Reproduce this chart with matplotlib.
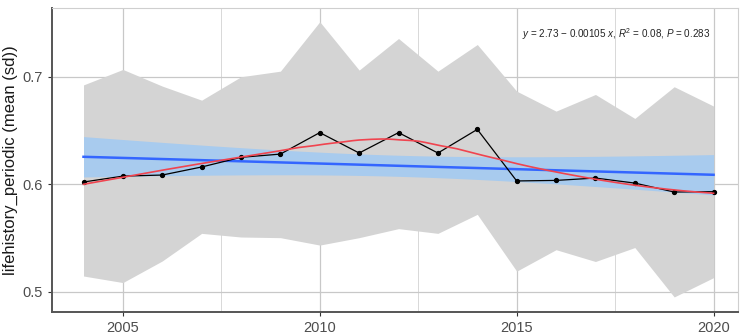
import numpy as np
import matplotlib
matplotlib.use("Agg")
import matplotlib.pyplot as plt

plt.rcParams['font.family'] = ['Liberation Sans', 'DejaVu Sans']
plt.rcParams['mathtext.fontset'] = 'custom'
plt.rcParams['mathtext.it'] = 'Liberation Sans:italic'
plt.rcParams['mathtext.rm'] = 'Liberation Sans'

# yearly mean and mean +/- sd band
years = np.arange(2004, 2021)
mean_vals = [0.602, 0.6075, 0.6085, 0.616, 0.625, 0.628, 0.648, 0.629, 0.648,
             0.629, 0.651, 0.603, 0.6035, 0.6057, 0.601, 0.5927, 0.593]
upper_vals = [0.6924, 0.7068, 0.6913, 0.6782, 0.700, 0.7052, 0.7512, 0.7062, 0.7356,
              0.7052, 0.730, 0.6866, 0.668, 0.6835, 0.6612, 0.6907, 0.6727]
lower_vals = [0.5145, 0.5084, 0.5285, 0.5542, 0.5508, 0.5502, 0.5433, 0.5502, 0.5586,
              0.5542, 0.5719, 0.519, 0.539, 0.528, 0.541, 0.495, 0.513]
equation = r"$y$ = 2.73 $-$ 0.00105 $x$, $R^2$ = 0.08, $P$ = 0.283"

x = years.astype(float)
y = np.array(mean_vals)

# linear fit with 95% confidence band (like geom_smooth(method = "lm"))
xs = np.linspace(x.min(), x.max(), 200)
slope, icpt = np.polyfit(x, y, 1)
fit = icpt + slope * xs
resid = y - (icpt + slope * x)
n = len(x)
s = np.sqrt(np.sum(resid ** 2) / (n - 2))
tval = 2.131  # t(0.975, df = 15)
se = s * np.sqrt(1 / n + (xs - x.mean()) ** 2 / np.sum((x - x.mean()) ** 2))


# loess smoother (span 0.75, degree 2)
def loess(x, y, xs, span=0.75):
    q = int(np.floor(span * len(x)))
    out = []
    for x0 in xs:
        d = np.abs(x - x0)
        h = np.sort(d)[q - 1]
        w = np.clip(1 - (d / h) ** 3, 0, None) ** 3
        W = np.sqrt(w)
        A = np.vstack([np.ones_like(x), x - x0, (x - x0) ** 2]).T
        coef = np.linalg.lstsq(A * W[:, None], y * W, rcond=None)[0]
        out.append(coef[0])
    return np.array(out)


smooth = loess(x, y, xs)

fig = plt.figure(figsize=(7.4, 3.36), dpi=100)
ax = fig.add_axes([52 / 740, 1 - 312 / 336, (738 - 52) / 740, (312 - 8) / 336])

ax.fill_between(years, lower_vals, upper_vals, color='#d4d4d4', lw=0, zorder=2)
ax.fill_between(xs, fit - tval * se, fit + tval * se, color='#a8cbee', lw=0, zorder=3)
ax.plot(xs, fit, color='#3366ff', lw=1.8, zorder=4)
ax.plot(years, mean_vals, color='black', lw=0.9, marker='o', ms=2.8, zorder=5)
ax.plot(xs, smooth, color='#f0444f', lw=1.2, zorder=6)

ax.text(0.959, 0.915, equation, transform=ax.transAxes, ha='right', va='center',
        fontsize=7.1, color='#222222', zorder=7)

ax.set_xlim(2003.2, 2020.62)
ax.set_ylim(0.481, 0.764)
ax.set_xticks([2005, 2010, 2015, 2020])
ax.set_xticks([2007.5, 2012.5, 2017.5], minor=True)
ax.set_yticks([0.5, 0.6, 0.7])
ax.set_yticklabels(['0.5', '0.6', '0.7'])
ax.grid(True, which='major', color='#c8c8c8', lw=0.9, zorder=1)
ax.grid(True, which='minor', axis='x', color='#d8d8d8', lw=0.7, zorder=1)
ax.set_axisbelow(True)

ax.tick_params(axis='both', which='major', labelsize=10.5, labelcolor='#4d4d4d',
               color='#333333', length=3, width=0.8)
ax.tick_params(which='minor', length=0)
ax.set_ylabel('lifehistory_periodic (mean (sd))', fontsize=12, color='#1a1a1a', labelpad=3)

for side in ['top', 'right']:
    ax.spines[side].set_color('#cfcfcf')
    ax.spines[side].set_linewidth(0.8)
for side in ['left', 'bottom']:
    ax.spines[side].set_color('#555555')
    ax.spines[side].set_linewidth(1.4)

fig.savefig('out.png', dpi=100)
